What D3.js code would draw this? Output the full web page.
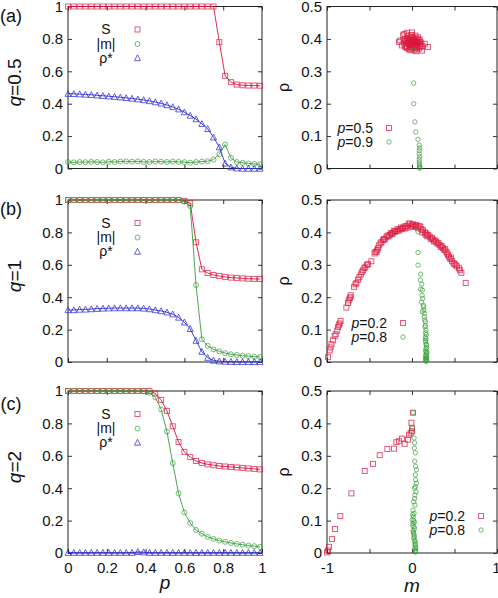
<!DOCTYPE html>
<html><head><meta charset="utf-8">
<script src="https://cdn.jsdelivr.net/npm/d3@7"></script>
<style>
body{margin:0;background:#fff}
text{font-family:"Liberation Sans",Arial,Helvetica,sans-serif;fill:#111}
</style>
</head><body>
<svg id="chart" width="498" height="598"></svg>
<script>
// ---------------- DATA ----------------
const pValues = [0,0.03,0.06,0.09,0.12,0.15,0.18,0.21,0.24,0.27,0.30,0.33,0.36,0.39,0.42,0.45,0.48,0.51,0.54,0.57,0.60,0.63,0.66,0.69,0.72,0.75,0.78,0.81,0.84,0.87,0.90,0.93,0.96,0.99];

// panel (a) q=0.5
const S_q05   = [1,1,1,1,1,1,1,1,1,1,1,1,1,1,1,1,1,1,1,1,1,1,1,1,1,1,0.78,0.572,0.533,0.518,0.514,0.512,0.512,0.511];
const m_q05   = [0.040,0.038,0.040,0.039,0.041,0.040,0.038,0.042,0.040,0.043,0.044,0.042,0.044,0.041,0.040,0.043,0.042,0.040,0.043,0.041,0.039,0.036,0.040,0.043,0.045,0.055,0.088,0.148,0.066,0.040,0.035,0.031,0.028,0.026];
const rho_q05 = [0.462,0.461,0.459,0.457,0.455,0.452,0.449,0.446,0.443,0.440,0.436,0.432,0.428,0.423,0.417,0.410,0.402,0.392,0.380,0.366,0.348,0.327,0.305,0.276,0.245,0.193,0.132,0.032,0.008,0.002,0,0,0,0];

// panel (b) q=1
const S_q1   = [1,1,1,1,1,1,1,1,1,1,1,1,1,1,1,1,1,1,1,1,0.995,0.98,0.739,0.572,0.549,0.537,0.531,0.525,0.521,0.519,0.516,0.514,0.513,0.512];
const m_q1   = [1,1,1,1,1,1,1,1,1,1,1,1,1,1,1,1,1,1,1,1,0.99,0.963,0.475,0.140,0.100,0.078,0.066,0.055,0.048,0.043,0.039,0.036,0.033,0.031];
const rho_q1 = [0.321,0.321,0.324,0.325,0.327,0.329,0.331,0.332,0.333,0.333,0.333,0.333,0.333,0.331,0.327,0.321,0.315,0.307,0.295,0.275,0.245,0.205,0.132,0.064,0.027,0.010,0.005,0.003,0.002,0.001,0.001,0.001,0.001,0.001];

// panel (c) q=2
const S_q2   = [1,1,1,1,1,1,1,1,1,1,1,1,1,1,1,0.985,0.945,0.877,0.782,0.685,0.624,0.592,0.568,0.556,0.547,0.542,0.537,0.534,0.531,0.528,0.525,0.522,0.519,0.516];
const m_q2   = [1,1,1,1,1,1,1,1,1,1,1,1,1,1,0.99,0.961,0.886,0.749,0.555,0.368,0.250,0.185,0.142,0.119,0.100,0.087,0.077,0.069,0.062,0.056,0.051,0.046,0.042,0.038];
const rho_q2 = [0.002,0.002,0.002,0.002,0.002,0.002,0.002,0.002,0.002,0.002,0.002,0.002,0.007,0.005,0.002,0.002,0.002,0.002,0.002,0.002,0.002,0.002,0.002,0.002,0.002,0.002,0.002,0.002,0.002,0.002,0.002,0.002,0.002,0.002];

// right panels: [m, rho] scatter
const scatter_q05_p05 = [[-0.08,0.40],[-0.06,0.395],[-0.04,0.41],[-0.02,0.40],[0.00,0.405],[0.02,0.398],[0.04,0.41],[0.06,0.40],[0.08,0.395],[0.10,0.39],
[-0.09,0.385],[-0.07,0.378],[-0.05,0.388],[-0.03,0.382],[-0.01,0.39],[0.01,0.385],[0.03,0.392],[0.05,0.383],[0.07,0.388],[0.09,0.38],
[-0.06,0.372],[-0.04,0.368],[-0.02,0.375],[0.00,0.37],[0.02,0.378],[0.04,0.372],[0.06,0.376],[0.08,0.37],[0.10,0.375],[0.11,0.385],
[-0.05,0.402],[-0.03,0.395],[-0.01,0.412],[0.01,0.395],[0.03,0.402],[0.05,0.393],[0.07,0.405],[-0.07,0.392],[0.00,0.38],[0.02,0.388],
[-0.02,0.385],[0.04,0.38],[0.06,0.39],[-0.04,0.392],[0.01,0.375],[-0.08,0.375],[0.09,0.398],[0.12,0.378],[-0.10,0.395],[0.03,0.365],
[-0.06,0.419],[-0.105,0.411],[-0.153,0.39],[-0.14,0.395],[0.118,0.364],[0.188,0.375],[-0.12,0.38],[-0.09,0.415],[0.15,0.385],[0.0,0.42],[0.05,0.362],[-0.02,0.365]];
const scatter_q05_p09 = [[0.02,0.365],[0.02,0.264],[0.02,0.2],[0.035,0.144],[0.045,0.113],[0.07,0.09],[0.085,0.072],[0.09,0.063],[0.085,0.055],[0.085,0.045],[0.09,0.036],[0.085,0.028],[0.085,0.02],[0.088,0.013],[0.09,0.008],[0.09,0.004],[0.09,0.001]];

const scatter_q1_p02 = [[-0.988,0.015],[-0.968,0.036],[-0.958,0.045],[-0.948,0.055],[-0.929,0.067],[-0.91,0.08],[-0.898,0.086],[-0.88,0.097],[-0.87,0.108],[-0.86,0.115],[-0.85,0.119],[-0.84,0.127],
[-0.772,0.168],[-0.753,0.182],[-0.745,0.19],[-0.733,0.196],[-0.72,0.206],[-0.725,0.2],
[-0.682,0.232],[-0.665,0.24],[-0.654,0.244],[-0.635,0.254],[-0.62,0.262],[-0.603,0.27],[-0.59,0.278],[-0.576,0.283],[-0.56,0.29],[-0.548,0.294],[-0.53,0.3],[-0.517,0.302],[-0.478,0.311],
[-0.44,0.335],[-0.43,0.34],[-0.419,0.34],[-0.41,0.345],[-0.4,0.351],[-0.39,0.36],[-0.372,0.366],[-0.36,0.37],[-0.341,0.376],[-0.33,0.38],[-0.32,0.378],[-0.301,0.385],[-0.29,0.39],[-0.275,0.388],[-0.262,0.392],[-0.25,0.398],[-0.235,0.395],[-0.224,0.399],[-0.21,0.405],[-0.2,0.402],[-0.184,0.404],[-0.17,0.41],[-0.158,0.405],[-0.145,0.409],[-0.13,0.415],[-0.12,0.41],[-0.106,0.414],[-0.09,0.418],[-0.08,0.412],[-0.066,0.42],[-0.05,0.415],[-0.04,0.425],[-0.027,0.428],[-0.01,0.418],[0.0,0.422],[0.012,0.425],[0.03,0.417],[0.04,0.42],[0.051,0.423],[0.07,0.413],[0.085,0.42],[0.098,0.417],[0.11,0.41],[0.12,0.4],[0.129,0.407],[0.15,0.4],[0.16,0.393],[0.169,0.397],[0.18,0.388],[0.19,0.392],[0.208,0.387],[0.22,0.38],[0.235,0.383],[0.247,0.378],[0.26,0.372],[0.275,0.375],[0.286,0.371],[0.3,0.365],[0.31,0.367],[0.325,0.361],[0.34,0.355],[0.35,0.358],[0.365,0.351],[0.38,0.345],[0.39,0.348],[0.404,0.34],[0.415,0.335],[0.425,0.33],[0.435,0.325],[0.45,0.318],[0.46,0.322],[0.471,0.311],[0.49,0.305],[0.5,0.302],[0.514,0.299],[0.53,0.295],[0.553,0.289],[0.565,0.283],[0.581,0.275],[0.632,0.244]];
const scatter_q1_p08 = [[0.071,0.402],[0.071,0.338],[0.071,0.299],[0.102,0.271],[0.098,0.253],[0.115,0.24],[0.102,0.225],[0.122,0.222],[0.118,0.206],[0.126,0.196],[0.11,0.185],[0.133,0.175],[0.137,0.17],[0.14,0.16],[0.122,0.155],[0.145,0.15],[0.145,0.139],[0.15,0.13],[0.157,0.124],[0.157,0.113],[0.153,0.108],[0.165,0.098],[0.16,0.09],[0.168,0.085],[0.157,0.077],[0.165,0.072],[0.158,0.067],[0.161,0.062],[0.165,0.055],[0.173,0.052],[0.17,0.045],[0.165,0.041],[0.16,0.035],[0.165,0.031],[0.175,0.03],[0.173,0.026],[0.158,0.02],[0.169,0.019],[0.175,0.015],[0.165,0.012],[0.157,0.01],[0.17,0.008],[0.173,0.005],[0.162,0.004],[0.168,0.002]];

const scatter_q2_p02 = [[-1.0,0.002],[-0.988,0.008],[-0.976,0.019],[-0.941,0.043],[-0.906,0.074],[-0.843,0.114],[-0.713,0.184],[-0.556,0.253],[-0.459,0.275],[-0.38,0.302],[-0.29,0.321],[-0.212,0.322],[-0.184,0.342],[-0.153,0.345],[-0.118,0.353],[-0.086,0.337],[-0.047,0.35],[-0.035,0.365],[-0.015,0.371],[0.0,0.376],[-0.007,0.402],[0.012,0.433],[0.0,0.385]];
const scatter_q2_p08 = [[0.012,0.433],[0.005,0.386],[0.024,0.355],[0.031,0.34],[0.027,0.324],[0.039,0.309],[0.031,0.283],[0.043,0.267],[0.051,0.257],[0.039,0.241],[0.043,0.226],[0.051,0.215],[0.039,0.205],[0.03,0.2],[0.047,0.189],[0.035,0.179],[0.031,0.168],[0.02,0.158],[0.035,0.148],[0.012,0.132],[0.024,0.122],[0.008,0.118],[0.016,0.112],[0.004,0.103],[0.02,0.1],[0.028,0.095],[0.012,0.091],[0.01,0.085],[0.024,0.081],[0.03,0.075],[0.012,0.07],[0.015,0.065],[0.02,0.06],[0.025,0.055],[0.027,0.05],[0.02,0.045],[0.035,0.039],[0.03,0.035],[0.039,0.029],[0.035,0.025],[0.039,0.019],[0.045,0.015],[0.03,0.012],[0.043,0.008],[0.04,0.005],[0.039,0.003]];

const leftYTicks = [0,0.2,0.4,0.6,0.8,1];
const leftXTicks = [0,0.2,0.4,0.6,0.8,1];
const rightYTicks = [0,0.1,0.2,0.3,0.4,0.5];
const rightXTicks = [-1,-0.5,0,0.5,1];
const rightXLabels = [-1,0,1];
const rowLabels = ["(a)","(b)","(c)"];
const qValues = ["0.5","1","2"];
const leftSeriesNames = ["S","|m|","ρ*"];
const rightLegend = [["0.5","0.9"],["0.2","0.8"],["0.2","0.8"]];

// ---------------- LAYOUT / STYLE ----------------
const RED = "#dc143c", GREEN = "#3a9e3a", BLUE = "#2f2fd6";
const svg = d3.select("#chart");
const rows = [{top:6.5,bottom:168.5,lab:22},{top:200,bottom:362,lab:215},{top:391,bottom:553,lab:410}];
const LX0 = 68, LX1 = 262, RX0 = 327, RX1 = 497;
const tick = 4;

const leftData = [
  [S_q05, m_q05, rho_q05],
  [S_q1, m_q1, rho_q1],
  [S_q2, m_q2, rho_q2]
];
const rightData = [
  [scatter_q05_p05, scatter_q05_p09],
  [scatter_q1_p02, scatter_q1_p08],
  [scatter_q2_p02, scatter_q2_p08]
];
const rightLegendPos = [{x:373,y:121.5,mx:389},{x:387,y:123,mx:403},{x:465,y:125,mx:481}];

function marker(g, type, x, y, color, size) {
  const s = size;
  if (type === 0) {
    g.append("rect").attr("x", x - s/2).attr("y", y - s/2).attr("width", s).attr("height", s)
      .attr("fill","none").attr("stroke",color).attr("stroke-width",1).attr("stroke-opacity",0.7);
  } else if (type === 1) {
    g.append("circle").attr("cx", x).attr("cy", y).attr("r", s/2)
      .attr("fill","none").attr("stroke",color).attr("stroke-width",1).attr("stroke-opacity",0.7);
  } else {
    const h = s*0.9;
    g.append("path").attr("d", `M${x},${y-h/2-0.5} L${x+s/2},${y+h/2} L${x-s/2},${y+h/2} Z`)
      .attr("fill","none").attr("stroke",color).attr("stroke-width",1).attr("stroke-opacity",0.75);
  }
}

function frame(g, x, y, xTicks, yTicks, xLabels, yFmt, showX) {
  const [x0,x1] = x.range(), [y0,y1] = y.range();
  const ax = g.append("g").attr("class","axes");
  const bottom = d3.axisBottom(x).tickValues(xTicks).tickSizeInner(-tick).tickSizeOuter(0).tickPadding(9)
    .tickFormat(d => (showX && xLabels.includes(d)) ? String(d) : "");
  ax.append("g").attr("transform",`translate(0,${y0})`).call(bottom);
  const top = d3.axisTop(x).tickValues(xTicks).tickSizeInner(-tick).tickSizeOuter(0).tickFormat("");
  ax.append("g").attr("transform",`translate(0,${y1})`).call(top);
  const left = d3.axisLeft(y).tickValues(yTicks).tickSizeInner(-tick).tickSizeOuter(0).tickPadding(5).tickFormat(yFmt);
  ax.append("g").attr("transform",`translate(${x0},0)`).call(left);
  const right = d3.axisRight(y).tickValues(yTicks).tickSizeInner(-tick).tickSizeOuter(0).tickFormat("");
  ax.append("g").attr("transform",`translate(${x1},0)`).call(right);
  ax.selectAll(".domain").remove();
  ax.selectAll(".tick line").attr("stroke","#333").attr("stroke-width",1);
  ax.selectAll(".tick text").style("font-size","15px").attr("fill","#111");
  // keep the last label at the far right inside the picture
  ax.selectAll(".tick text").filter(d => d === 1 && x1 > 400 && showX)
    .attr("text-anchor","end").attr("x", 3);
  g.append("rect").attr("x",x0).attr("y",y1).attr("width",x1-x0).attr("height",y0-y1)
    .attr("fill","none").attr("stroke","#222").attr("stroke-width",1);
}

const fmt = d => String(+d.toFixed(1));
const colors = [RED, GREEN, BLUE];

rows.forEach((r, i) => {
  const last = i === 2;
  // ---------- left panel ----------
  const gx = d3.scaleLinear().domain([0,1]).range([LX0, LX1]);
  const gy = d3.scaleLinear().domain([0,1]).range([r.bottom, r.top]);
  const gL = svg.append("g");
  frame(gL, gx, gy, leftXTicks, leftYTicks, leftXTicks, fmt, last);
  leftData[i].forEach((vals, k) => {
    const line = d3.line().x((d,j) => gx(pValues[j])).y(d => gy(d));
    gL.append("path").datum(vals).attr("d", line).attr("fill","none")
      .attr("stroke", colors[k]).attr("stroke-width",1).attr("stroke-opacity",0.9);
    vals.forEach((v,j) => marker(gL, k, gx(pValues[j]), gy(v), colors[k], k===2 ? 6 : 5));
  });
  // legend
  const ly = [23, 37.5, 51.5];
  leftSeriesNames.forEach((nm, k) => {
    gL.append("text").attr("x", 106).attr("y", r.top + ly[k]).attr("dy","0.35em")
      .attr("text-anchor","middle").style("font-size","14px").text(nm);
    marker(gL, k, 137.5, r.top + ly[k], colors[k], k===2 ? 6 : 5);
  });
  // row label and q label
  svg.append("text").attr("x", 11).attr("y", r.lab).attr("text-anchor","middle")
    .style("font-size","18px").text(rowLabels[i]);
  const ql = svg.append("text").attr("transform",`translate(21,${(r.top+r.bottom)/2 - 5}) rotate(-90)`)
    .attr("text-anchor","middle").style("font-size","19px");
  ql.append("tspan").style("font-style","italic").text("q");
  ql.append("tspan").text("=" + qValues[i]);

  // ---------- right panel ----------
  const sx = d3.scaleLinear().domain([-1,1]).range([RX0, RX1]);
  const sy = d3.scaleLinear().domain([0,0.5]).range([r.bottom, r.top]);
  const gR = svg.append("g");
  frame(gR, sx, sy, rightXTicks, rightYTicks, rightXLabels, fmt, last);
  rightData[i].forEach((pts, k) => {
    pts.forEach(d => marker(gR, k, sx(d[0]), sy(d[1]), colors[k], k===0 ? 5 : 4.4));
  });
  const lp = rightLegendPos[i];
  rightLegend[i].forEach((pv, k) => {
    const yy = r.top + lp.y + k*14;
    const t = gR.append("text").attr("x", lp.x).attr("y", yy).attr("dy","0.35em")
      .attr("text-anchor","end").style("font-size","14px");
    t.append("tspan").style("font-style","italic").text("p");
    t.append("tspan").text("=" + pv);
    marker(gR, k, lp.mx, yy, colors[k], k===0 ? 5 : 4.4);
  });
  svg.append("text").attr("transform",`translate(289,${(r.top+r.bottom)/2}) rotate(-90)`)
    .attr("text-anchor","middle").style("font-size","16px").text("ρ");
});

// x axis titles
svg.append("text").attr("x", 165).attr("y", 589).attr("text-anchor","middle")
  .style("font-size","19px").style("font-style","italic").text("p");
svg.append("text").attr("x", 412).attr("y", 592).attr("text-anchor","middle")
  .style("font-size","19px").style("font-style","italic").text("m");
</script>
</body></html>
